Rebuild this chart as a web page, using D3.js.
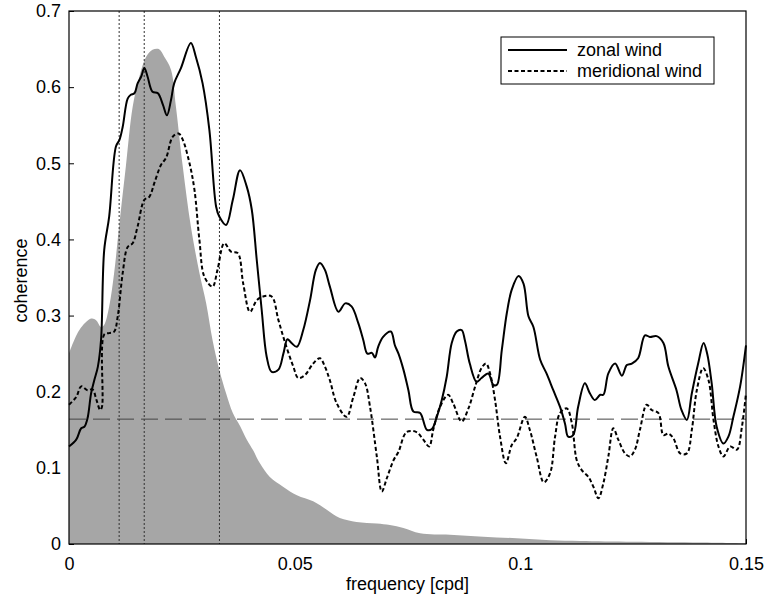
<!DOCTYPE html>
<html>
<head>
<meta charset="utf-8">
<script src="https://cdn.jsdelivr.net/npm/d3@7"></script>
<style>
  body { margin: 0; background: #fff; }
  text { font-family: "Liberation Sans", Arial, sans-serif; fill: #000; }
</style>
</head>
<body>
<div id="chart"></div>
<script>
// frequency [cpd] , value pairs
const spectrum = [
  [0, .250], [.0023, .281], [.0049, .296], [.006, .294], [.0071, .285], [.0078, .288],
  [.0089, .312], [.010, .356], [.0111, .417], [.0126, .496], [.0141, .574], [.0156, .614],
  [.0171, .640], [.0185, .649], [.0199, .650], [.0211, .640], [.0226, .623], [.0237, .574],
  [.0252, .496], [.027, .417], [.0289, .356], [.0304, .316], [.0318, .268], [.0333, .229],
  [.0348, .198], [.0363, .172], [.0379, .155], [.0394, .137], [.0408, .123], [.0423, .106],
  [.0445, .088], [.0475, .075], [.0505, .064], [.0541, .056], [.0571, .045], [.060, .034],
  [.0637, .029], [.0682, .027], [.0711, .025], [.0741, .021], [.0778, .014], [.0844, .012],
  [.0918, .0096], [.0992, .0075], [.1066, .005], [.1132, .004], [.125, .003], [.14, .002], [.15, .001]
];

const zonal = [
  [0, .128], [.0016, .137], [.0027, .152], [.0034, .154], [.0041, .165], [.0049, .198],
  [.0056, .215], [.0064, .233], [.0071, .268], [.0078, .386], [.0089, .43], [.0104, .522],
  [.0112, .531], [.0119, .548], [.013, .585], [.0137, .590], [.0145, .592], [.0152, .605],
  [.016, .614], [.0167, .625], [.0174, .614], [.0185, .594], [.0197, .592], [.0208, .577],
  [.0217, .563], [.0226, .583], [.0233, .605], [.0248, .625], [.027, .658], [.0281, .64],
  [.0296, .605], [.0311, .544], [.0326, .443], [.0333, .43], [.0348, .419], [.0363, .452],
  [.0379, .491], [.0394, .469], [.0405, .439], [.0416, .373], [.0427, .307], [.0438, .246],
  [.0449, .226], [.0464, .229], [.0475, .250], [.0484, .269], [.0493, .264], [.0505, .259],
  [.0519, .281], [.0534, .320], [.0547, .360], [.0556, .369], [.0567, .360], [.0578, .338],
  [.0597, .305], [.0612, .316], [.0626, .312], [.0641, .290], [.0652, .268], [.0661, .250],
  [.0671, .251], [.0678, .245], [.0685, .259], [.0696, .272], [.0713, .279], [.0722, .261],
  [.073, .250], [.0741, .229], [.0752, .202], [.0763, .174], [.0778, .172], [.0793, .150],
  [.0804, .151], [.0815, .167], [.0826, .189], [.0837, .220], [.0848, .264], [.0859, .279],
  [.087, .281], [.0877, .268], [.0888, .237], [.0903, .213], [.0914, .218], [.0929, .224],
  [.094, .209], [.0948, .209], [.0959, .255], [.097, .303], [.0981, .334], [.0996, .352],
  [.1007, .342], [.1018, .299], [.1029, .285], [.1044, .242], [.1058, .224], [.1073, .202],
  [.1088, .180], [.1099, .158], [.1106, .141], [.1117, .143], [.1128, .180], [.1143, .211],
  [.1154, .198], [.1165, .189], [.1177, .196], [.1184, .196], [.1195, .224], [.121, .237],
  [.1225, .221], [.1236, .235], [.1247, .237], [.1261, .244], [.1276, .274], [.1287, .272],
  [.1302, .273], [.1317, .264], [.1328, .233], [.1346, .202], [.1357, .176], [.1369, .163],
  [.138, .198], [.1394, .237], [.1406, .264], [.1414, .250], [.1424, .211], [.1435, .154],
  [.145, .132], [.1461, .141], [.1472, .167], [.1487, .207], [.15, .261]
];

const meridional = [
  [0, .183], [.0016, .193], [.0027, .207], [.0041, .202], [.0052, .203], [.0061, .189],
  [.0069, .176], [.0073, .180], [.0078, .275], [.0089, .277], [.010, .279], [.0108, .299],
  [.0119, .356], [.013, .390], [.0141, .395], [.0152, .417], [.0167, .452], [.0178, .456],
  [.0189, .474], [.0204, .498], [.0215, .507], [.023, .535], [.0243, .539], [.0252, .531],
  [.0267, .500], [.0278, .465], [.0289, .399], [.030, .351], [.0318, .338], [.0329, .360],
  [.0344, .395], [.0359, .384], [.0374, .382], [.0386, .342], [.0401, .305], [.0416, .320],
  [.043, .325], [.0449, .325], [.0464, .294], [.0479, .264], [.0497, .233], [.0508, .218],
  [.0523, .222], [.0541, .237], [.0556, .244], [.0567, .233], [.0578, .215], [.0593, .185],
  [.0615, .167], [.063, .193], [.0645, .218], [.0656, .211], [.0667, .180], [.0682, .115],
  [.0693, .069], [.0704, .086], [.0719, .110], [.073, .121], [.0748, .147], [.077, .147],
  [.0785, .137], [.0798, .128], [.0807, .150], [.0822, .180], [.084, .196], [.0851, .185],
  [.087, .161], [.0885, .178], [.090, .207], [.0914, .231], [.0924, .237], [.0933, .224],
  [.0944, .189], [.0955, .141], [.0968, .106], [.0981, .130], [.0992, .139], [.101, .167],
  [.1021, .150], [.1036, .115], [.1052, .081], [.1066, .093], [.1077, .141], [.1088, .172],
  [.1103, .178], [.1114, .159], [.1125, .110], [.1136, .097], [.1151, .088], [.1162, .075],
  [.1173, .060], [.1184, .080], [.1195, .115], [.1206, .152], [.1217, .137], [.1232, .119],
  [.1243, .115], [.1254, .124], [.1265, .150], [.128, .183], [.1291, .176], [.1306, .172],
  [.1317, .143], [.1328, .145], [.1339, .139], [.1354, .119], [.1369, .119], [.138, .150],
  [.1391, .202], [.1405, .231], [.1417, .215], [.1428, .163], [.1439, .128], [.145, .115],
  [.1465, .128], [.148, .124], [.1491, .154], [.15, .198]
];

// periods of 90, 60 and 30 days
const markFreqs = [1 / 90, 1 / 60, 1 / 30];
const significance = 0.164;

const xTicks = [0, 0.05, 0.1, 0.15];
const yTicks = [0, 0.1, 0.2, 0.3, 0.4, 0.5, 0.6, 0.7];

const series = [
  {name: 'zonal wind', data: zonal, dash: null},
  {name: 'meridional wind', data: meridional, dash: '4,2.5'}
];

const width = 767, height = 596;
const margin = {top: 11, right: 21, bottom: 52, left: 69};
const innerW = width - margin.left - margin.right;
const innerH = height - margin.top - margin.bottom;

const svg = d3.select('#chart').append('svg')
    .attr('width', width)
    .attr('height', height);

const chart = svg.append('g')
    .attr('transform', `translate(${margin.left},${margin.top})`);

const x = d3.scaleLinear().domain([0, 0.15]).range([0, innerW]);
const y = d3.scaleLinear().domain([0, 0.7]).range([innerH, 0]);

// axes with inward ticks
const xAxis = d3.axisBottom(x).tickValues(xTicks).tickSize(-5).tickPadding(10)
    .tickFormat(d => d3.format('')(+d.toFixed(2)));
const yAxis = d3.axisLeft(y).tickValues(yTicks).tickSize(-5).tickPadding(8)
    .tickFormat(d => d3.format('')(+d.toFixed(1)));

const xAxisG = chart.append('g')
    .attr('transform', `translate(0,${innerH})`)
    .call(xAxis);
const yAxisG = chart.append('g').call(yAxis);

[xAxisG, yAxisG].forEach(g => {
  g.select('.domain').remove();
  g.selectAll('.tick line').attr('stroke', '#000');
  g.selectAll('.tick text').style('font-size', '18px').attr('fill', '#000');
});
xAxisG.selectAll('.tick text').attr('dy', '0.9em');

// shaded spectrum
chart.append('path')
    .datum(spectrum)
    .attr('fill', '#a6a6a6')
    .attr('d', d3.area()
        .x(d => x(d[0]))
        .y0(y(0))
        .y1(d => y(d[1]))
        .curve(d3.curveCatmullRom.alpha(0.5)));

// reference lines
chart.selectAll('.period')
    .data(markFreqs)
  .join('line')
    .attr('class', 'period')
    .attr('x1', d => x(d)).attr('x2', d => x(d))
    .attr('y1', 0).attr('y2', innerH)
    .attr('stroke', '#333')
    .attr('stroke-width', 1)
    .attr('stroke-dasharray', '2,2');

chart.append('line')
    .attr('x1', 0).attr('x2', innerW)
    .attr('y1', y(significance)).attr('y2', y(significance))
    .attr('stroke', '#444')
    .attr('stroke-width', 1)
    .attr('stroke-dasharray', '17,7');

const line = d3.line()
    .x(d => x(d[0]))
    .y(d => y(d[1]))
    .curve(d3.curveCatmullRom.alpha(0.5));

chart.selectAll('.series')
    .data(series)
  .join('path')
    .attr('class', 'series')
    .attr('fill', 'none')
    .attr('stroke', '#000')
    .attr('stroke-width', 2)
    .attr('stroke-dasharray', d => d.dash)
    .attr('d', d => line(d.data));

// box
chart.append('rect')
    .attr('width', innerW).attr('height', innerH)
    .attr('fill', 'none')
    .attr('stroke', '#000')
    .attr('stroke-width', 1.2);

// legend
const legend = chart.append('g')
    .attr('transform', `translate(${432},${26})`);
legend.append('rect')
    .attr('width', 213).attr('height', 47)
    .attr('fill', '#fff')
    .attr('stroke', '#000')
    .attr('stroke-width', 1);
const items = legend.selectAll('.item')
    .data(series)
  .join('g')
    .attr('class', 'item')
    .attr('transform', (d, i) => `translate(0,${13 + i * 21})`);
items.append('line')
    .attr('x1', 7).attr('x2', 66)
    .attr('stroke', '#000')
    .attr('stroke-width', 2)
    .attr('stroke-dasharray', d => d.dash);
items.append('text')
    .attr('x', 76)
    .attr('dy', '0.35em')
    .style('font-size', '18px')
    .text(d => d.name);

// axis titles
chart.append('text')
    .attr('x', innerW / 2)
    .attr('y', innerH + 46)
    .attr('text-anchor', 'middle')
    .style('font-size', '18px')
    .text('frequency [cpd]');

svg.append('text')
    .attr('transform', `translate(27,${margin.top + y(0.35) + 3}) rotate(-90)`)
    .attr('text-anchor', 'middle')
    .style('font-size', '18px')
    .text('coherence');
</script>
</body>
</html>
